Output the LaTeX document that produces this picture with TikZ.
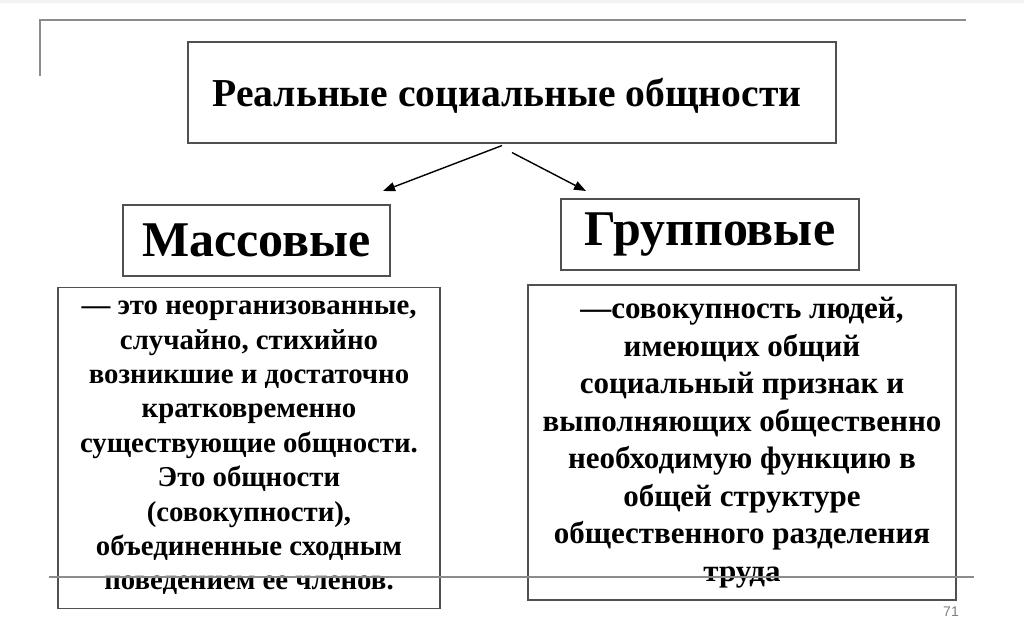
\documentclass[tikz,border=0pt]{standalone}
\usepackage{fontspec}
\setmainfont{Liberation Serif}
\newfontfamily\numfont{Liberation Sans}
\usetikzlibrary{arrows.meta}
\definecolor{rulegray}{HTML}{8C8C8C}
\definecolor{boxgray}{HTML}{505050}
\begin{document}
\begin{tikzpicture}[x=1pt,y=-1pt,
  framebox/.style={draw=boxgray,line width=1.1pt,rectangle,inner sep=0pt,align=center,font=\bfseries},
  plaintext/.style={inner sep=0pt,align=center},
  arr/.style={line width=1.4pt,-{Triangle[length=12pt,width=9pt]}},
  rulel/.style={draw=rulegray,line width=2.6pt}]
\useasboundingbox (0,0) rectangle (1024,639);
\fill[gray!10] (0,0) rectangle (1024,3);
% decorative rules
\draw[rulel] (40,76) -- (40,20) -- (966,20);
% boxes
\node[framebox,minimum width=648pt,minimum height=101pt] (title) at (512,92.5) {};
\node[plaintext,font=\bfseries\fontsize{39.6}{44}\selectfont] (titletext) at (507,96) {Реальные социальные общности};
\node[framebox,minimum width=267pt,minimum height=71pt,font=\bfseries\fontsize{50}{54}\selectfont] (mass) at (256.5,240.5) {Массовые};
\node[framebox,minimum width=298pt,minimum height=71pt,font=\bfseries\fontsize{50}{54}\selectfont] (group) at (710,234.5) {Групповые};
\node[framebox,minimum width=382pt,minimum height=321pt,font=\bfseries\fontsize{28.8}{34.4}\selectfont] (massdef) at (249,448) {— это неорганизованные,\\случайно, стихийно\\возникшие и достаточно\\кратковременно\\существующие общности.\\Это общности\\(совокупности),\\объединенные сходным\\поведением ее членов.};
\node[framebox,minimum width=428pt,minimum height=315pt,font=\bfseries\fontsize{31}{37.5}\selectfont] (groupdef) at (742,442.5) {—совокупность людей,\\имеющих общий\\социальный признак и\\выполняющих общественно\\необходимую функцию в\\общей структуре\\общественного разделения\\труда};
% arrows
\coordinate (lend) at (383,191);
\coordinate (rend) at (586,191);
\draw[arr] ([shift={(-10,2)}]title.south) -- (lend);
\draw[arr] ([shift={(0,9)}]title.south) -- (rend);
% bottom rule
\draw[rulel] (49,577) -- (974,577);
\node[font=\numfont\fontsize{14}{14}\selectfont,text=gray,inner sep=0pt] (pnum) at (951,612) {71};
\end{tikzpicture}
\end{document}
